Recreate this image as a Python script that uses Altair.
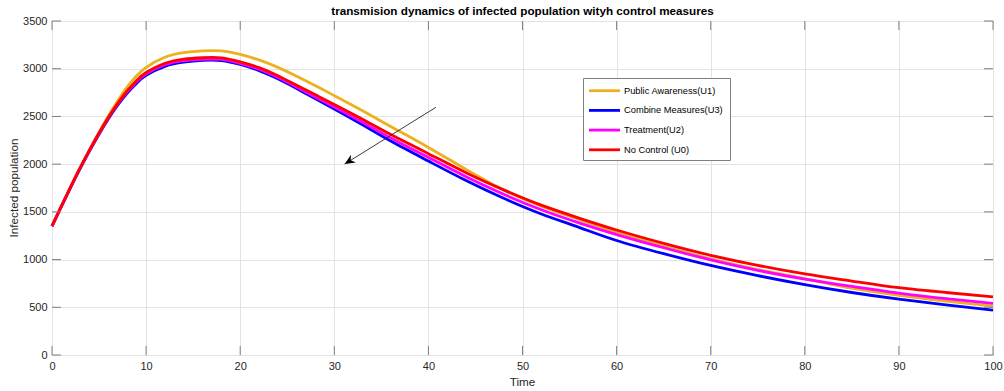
import altair as alt
import pandas as pd

# ---------------- data ----------------
T = [0, 1, 2, 3, 4, 5, 6, 7, 8, 9, 10, 12, 14, 16, 18, 20, 22, 24, 26, 28, 30,
     33, 36, 40, 44, 48, 52, 56, 60, 65, 70, 75, 80, 85, 90, 95, 100]

U1 = [1350, 1560, 1766, 1965, 2155, 2336, 2508, 2668, 2810, 2926, 3015, 3120, 3168,
      3186, 3186, 3150, 3092, 3014, 2922, 2822, 2718, 2560, 2395, 2175, 1945,
      1730, 1560, 1420, 1285, 1138, 1007, 895, 800, 700, 625, 565, 513]
U3 = [1350, 1558, 1760, 1955, 2140, 2314, 2476, 2620, 2745, 2848, 2930, 3024, 3068,
      3087, 3085, 3044, 2980, 2894, 2792, 2685, 2578, 2412, 2242, 2032, 1828,
      1642, 1478, 1338, 1200, 1062, 938, 832, 738, 655, 585, 525, 470]
U2 = [1350, 1559, 1763, 1960, 2147, 2323, 2487, 2634, 2760, 2865, 2947, 3042, 3085,
      3099, 3098, 3057, 2995, 2910, 2808, 2703, 2600, 2440, 2275, 2070, 1868,
      1684, 1522, 1385, 1262, 1124, 997, 887, 795, 718, 648, 590, 540]
U0 = [1350, 1560, 1765, 1963, 2150, 2327, 2492, 2640, 2769, 2876, 2960, 3057, 3101,
      3115, 3114, 3072, 3012, 2927, 2827, 2726, 2625, 2470, 2310, 2110, 1910,
      1730, 1570, 1435, 1310, 1170, 1045, 940, 850, 775, 705, 655, 610]

SERIES = ["Public Awareness(U1)", "Combine Measures(U3)", "Treatment(U2)", "No Control (U0)"]
VALUES = [U1, U3, U2, U0]
COLORS = ["#EDB120", "#0000FF", "#FF00FF", "#FF0000"]

X_TICKS = [0, 10, 20, 30, 40, 50, 60, 70, 80, 90, 100]
Y_TICKS = [0, 500, 1000, 1500, 2000, 2500, 3000, 3500]

ARROW_START = [40.8, 2596]
ARROW_END = [31.1, 2001]

TITLE = "transmision dynamics of infected population wityh control measures"
X_TITLE = "Time"
Y_TITLE = "Infected population"

# ---------------- layout / style ----------------
W, H = 941, 334
FONT = "Liberation Sans"
TXT = "#262626"
AXC = "#808080"
GRID = "#e3e3e3"

xs = alt.Scale(domain=[0, 100], nice=False, zero=False)
ys = alt.Scale(domain=[0, 3500], nice=False, zero=False)

x_axis = alt.Axis(values=X_TICKS, grid=True, gridColor=GRID, gridWidth=1, domain=False,
                  ticks=False, tickSize=0, labelFont=FONT, labelFontSize=11,
                  labelColor=TXT, labelPadding=5, labelFlush=False, labelOverlap=False,
                  title=None, format="d")
y_axis = alt.Axis(values=Y_TICKS, grid=True, gridColor=GRID, gridWidth=1, domain=False,
                  ticks=False, tickSize=0, labelFont=FONT, labelFontSize=11,
                  labelColor=TXT, labelPadding=5, labelFlush=False, labelOverlap=False,
                  title=None, format="d")

layers = []

# series lines
for name, vals, col in zip(SERIES, VALUES, COLORS):
    d = pd.DataFrame({"t": T, "v": vals, "series": name})
    layers.append(
        alt.Chart(d).mark_line(color=col, strokeWidth=2.8, interpolate="natural").encode(
            x=alt.X("t:Q", scale=xs, axis=x_axis),
            y=alt.Y("v:Q", scale=ys, axis=y_axis),
        )
    )

# inward tick marks (bottom, top, left, right)
xt = pd.DataFrame({"v": X_TICKS})
yt = pd.DataFrame({"v": Y_TICKS})
layers.append(alt.Chart(xt).mark_rule(color=AXC, strokeWidth=1).encode(
    x=alt.X("v:Q", scale=xs, axis=x_axis), y=alt.value(H), y2=alt.value(H - 9)))
layers.append(alt.Chart(xt).mark_rule(color=AXC, strokeWidth=1).encode(
    x=alt.X("v:Q", scale=xs, axis=x_axis), y=alt.value(0), y2=alt.value(9)))
layers.append(alt.Chart(yt).mark_rule(color=AXC, strokeWidth=1).encode(
    y=alt.Y("v:Q", scale=ys, axis=y_axis), x=alt.value(0), x2=alt.value(9)))
layers.append(alt.Chart(yt).mark_rule(color=AXC, strokeWidth=1).encode(
    y=alt.Y("v:Q", scale=ys, axis=y_axis), x=alt.value(W), x2=alt.value(W - 9)))

# arrow annotation
ad = pd.DataFrame({"x": [ARROW_START[0]], "y": [ARROW_START[1]],
                   "x2": [ARROW_END[0]], "y2": [ARROW_END[1]]})
layers.append(alt.Chart(ad).mark_rule(color=TXT, strokeWidth=0.9).encode(
    x=alt.X("x:Q", scale=xs, axis=x_axis), y=alt.Y("y:Q", scale=ys, axis=y_axis),
    x2="x2:Q", y2="y2:Q"))
layers.append(alt.Chart(ad).mark_point(
    shape="M0,0L-0.75,1.7L0,1.15L0.75,1.7Z", filled=True, size=150, angle=238,
    color="#000000", opacity=1, strokeWidth=0).encode(
    x=alt.X("x2:Q", scale=xs, axis=x_axis), y=alt.Y("y2:Q", scale=ys, axis=y_axis)))

# legend box
one = pd.DataFrame({"a": [0]})
layers.append(alt.Chart(one).mark_rect(fill="white", stroke=AXC, strokeWidth=1).encode(
    x=alt.value(531.5), x2=alt.value(678.5), y=alt.value(57.5), y2=alt.value(139.5)))
for i, (name, col) in enumerate(zip(SERIES, COLORS)):
    yy = 69.7 + 19.7 * i
    layers.append(alt.Chart(one).mark_rule(color=col, strokeWidth=2.8).encode(
        x=alt.value(537), x2=alt.value(568), y=alt.value(yy)))
    layers.append(alt.Chart(one).mark_text(
        text=name, font=FONT, fontSize=9.3, color="#000000", align="left",
        baseline="middle").encode(x=alt.value(572), y=alt.value(yy)))

# titles
layers.append(alt.Chart(one).mark_text(
    text=TITLE, font=FONT, fontSize=11.7, fontWeight="bold", color="#000000",
    align="center", baseline="alphabetic").encode(x=alt.value(W / 2), y=alt.value(-6)))
layers.append(alt.Chart(one).mark_text(
    text=X_TITLE, font=FONT, fontSize=11.7, color=TXT,
    align="center", baseline="alphabetic").encode(x=alt.value(W / 2), y=alt.value(364.5)))
layers.append(alt.Chart(one).mark_text(
    text=Y_TITLE, font=FONT, fontSize=11.7, color=TXT, angle=270,
    align="center", baseline="alphabetic").encode(x=alt.value(-34.5), y=alt.value(H / 2)))

chart = alt.layer(*layers).properties(
    width=W, height=H,
    autosize=alt.AutoSizeParams(type="none"),
    padding={"left": 52, "top": 21, "right": 11, "bottom": 36},
    background="white",
).configure_view(stroke=AXC, strokeWidth=1)

chart.save("out.html", embed_options={"renderer": "svg", "actions": False})
